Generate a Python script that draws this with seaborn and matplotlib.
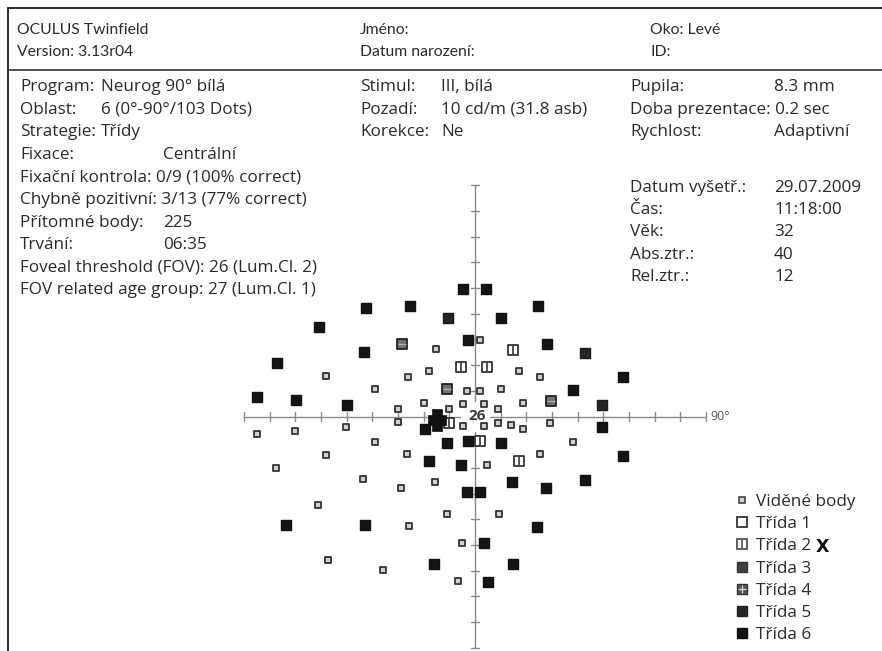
import numpy as np
import pandas as pd
import matplotlib.pyplot as plt
from matplotlib.lines import Line2D
from matplotlib.path import Path
from matplotlib.legend_handler import HandlerTuple
import seaborn as sns

sns.set_theme(style='white')
plt.rcParams['font.family'] = ['Open Sans', 'DejaVu Sans']

# --- test results, point positions in degrees (x: left/right, y: up/down) ---
seen_x = [-15.3, 1.9, -18.0, -26.2, -58.2, -39.0, -30.1, -19.9, -10.2, -85.0, -70.0, -50.1,
          -30.1, -39.0, 17.1, 25.3, -3.0, 1.9, 10.0, -4.8, 3.6, 9.1, 18.6, -4.8, 3.6,
          9.1, 13.9, 18.6, 29.2, 38.1, -58.2, -26.5, -77.5, -43.7, -28.8, -15.7,
          -61.0, -11.0, -25.6, -57.1, -35.7, -6.7, 25.3, 4.6, 9.5, -5.2]
seen_y = [26.2, 29.8, 17.8, 15.3, 15.8, 10.7, 2.9, 5.4, 2.9, -6.8, -5.6, -4.0,
          -2.3, -9.9, 17.8, 15.3, 9.8, 9.8, 10.8, 4.7, 4.7, 2.9, 5.4, -3.7, -3.7,
          -2.4, -3.5, -4.8, -2.4, -9.9, -15.0, -14.6, -20.2, -24.5, -27.7, -25.5,
          -34.5, -38.0, -42.8, -55.9, -59.9, -64.1, -14.6, -18.8, -38.0, -49.3]

cls2_x = [-5.6, 4.8, 14.7, -10.0, 1.9, 17.1]
cls2_y = [19.4, 19.4, 25.9, -2.4, -9.7, -17.5]

cls3_x = [-28.4, -10.8, 29.5]
cls3_y = [28.2, 10.8, 6.2]

cls5_x = [-10.6, 43.0, 49.5]
cls5_y = [38.5, 24.9, 4.4]

cls6_x = [-42.6, -25.2, -60.7, -43.4, -77.3, -84.8, -69.7, -50.0, -19.5, -11.0,
          -4.6, 4.2, 24.7, 10.0, -2.8, 27.9, 57.5, 38.3, 49.5, -2.8, 10.0,
          -18.0, -5.6, -73.7, -42.9, -16.1, 57.5, 14.4, 27.7, 42.7, -3.0, 1.9,
          24.3, 3.6, 14.7, 4.9]
cls6_y = [42.4, 43.2, 34.9, 25.0, 20.7, 7.6, 6.3, 4.6, -5.0, -10.4,
          49.6, 49.6, 43.0, 38.5, 29.8, 28.2, 15.5, 10.3, -4.2, -9.7, -10.4,
          -17.5, -19.0, -42.2, -42.2, -57.6, -15.4, -25.6, -28.0, -24.7, -29.5, -29.5,
          -43.2, -49.4, -57.6, -64.4]

blind_x = [-14.9]
blind_y = [-1.5]
fov_value = '26'

legend_labels = ['Viděné body', 'Třída 1', 'Třída 2', 'Třída 3', 'Třída 4', 'Třída 5', 'Třída 6']

header_left = ['OCULUS Twinfield', 'Version: 3.13r04']
header_mid = ['Jméno:', 'Datum narození:']
header_right = ['Oko: Levé', 'ID:']

info_a_labels = ['Program:', 'Oblast:', 'Strategie:']
info_a_values = ['Neurog 90° bílá', '6 (0°-90°/103 Dots)', 'Třídy']
info_b_labels = ['Fixace:', 'Fixační kontrola: 0/9 (100% correct)', 'Chybně pozitivní: 3/13 (77% correct)',
                 'Přítomné body:', 'Trvání:', 'Foveal threshold (FOV): 26 (Lum.Cl. 2)',
                 'FOV related age group: 27 (Lum.Cl. 1)']
info_b_values = ['Centrální', '', '', '225', '06:35', '', '']
stim_labels = ['Stimul:', 'Pozadí:', 'Korekce:']
stim_values = ['III, bílá', '10 cd/m (31.8 asb)', 'Ne']
right_labels = ['Pupila:', 'Doba prezentace: 0.2 sec', 'Rychlost:']
right_values = ['8.3 mm', '', 'Adaptivní']
exam_labels = ['Datum vyšetř.:', 'Čas:', 'Věk:', 'Abs.ztr.:', 'Rel.ztr.:']
exam_values = ['29.07.2009', '11:18:00', '32', '40', '12']

W, H = 882, 651
fig = plt.figure(figsize=(W / 100, H / 100), dpi=100)

# form layer in pixel units
form = fig.add_axes([0, 0, 1, 1])
form.set_xlim(0, W)
form.set_ylim(H, 0)
form.axis('off')

fs = 12.3
txt = dict(fontsize=fs, color='#2a2a2a', va='center')
head = dict(fontsize=11.3, color='#2a2a2a', va='center', family=['Lato', 'DejaVu Sans'])
form.plot([8, W], [8, 8], color='#333', lw=1.5)
form.plot([8, 8], [8, H], color='#333', lw=1.5)
form.plot([8, W], [70, 70], color='#333', lw=1.2)

for i, s in enumerate(header_left):
    form.text(17, 30 + 22 * i, s, **head)
for i, s in enumerate(header_mid):
    form.text(360, 30 + 22 * i, s, **head)
for i, s in enumerate(header_right):
    form.text(650, 30 + 22 * i, s, **head)

row = 22.6
for i, (l, v) in enumerate(zip(info_a_labels, info_a_values)):
    form.text(20, 87 + row * i, l, **txt)
    form.text(101, 87 + row * i, v, **txt)
for i, (l, v) in enumerate(zip(info_b_labels, info_b_values)):
    y = 87 + row * (i + 3)
    form.text(20, y, l, **txt)
    form.text(163, y, v, **txt)
for i, (l, v) in enumerate(zip(stim_labels, stim_values)):
    form.text(360, 87 + row * i, l, **txt)
    form.text(441, 87 + row * i, v, **txt)
for i, (l, v) in enumerate(zip(right_labels, right_values)):
    form.text(630, 87 + row * i, l, **txt)
    form.text(774, 87 + row * i, v, **txt)
for i, (l, v) in enumerate(zip(exam_labels, exam_values)):
    form.text(630, 187.5 + 22.4 * i, l, **txt)
    form.text(774, 187.5 + 22.4 * i, v, **txt)

# perimetry chart, degrees
S, CX, CY = 2.567, 475, 416.5
ax = fig.add_axes([0, 0, 1, 1])
ax.set_xlim(-CX / S, (W - CX) / S)
ax.set_ylim((CY - H) / S, CY / S)
ax.axis('off')
ax.patch.set_alpha(0)

axc = '#8a8a8a'
gap = 6
ax.plot([-90, -gap], [0, 0], color=axc, lw=1)
ax.plot([gap, 90], [0, 0], color=axc, lw=1)
ax.plot([0, 0], [gap, 90], color=axc, lw=1)
ax.plot([0, 0], [-90, -gap], color=axc, lw=1)
for t in range(-90, 91, 10):
    if t == 0:
        continue
    ax.plot([t, t], [-1.6, 1.6], color=axc, lw=1)
    ax.plot([-1.6, 1.6], [t, t], color=axc, lw=1)
ax.text(91.5, 0, '90°', fontsize=9, color='#555', va='center', ha='left')
ax.text(0.7, 0.2, fov_value, fontsize=11, fontweight='bold', color='#3a3a3a',
        va='center', ha='center')

df = pd.concat([
    pd.DataFrame({'x': seen_x, 'y': seen_y, 'cls': 'seen'}),
    pd.DataFrame({'x': cls2_x, 'y': cls2_y, 'cls': 'c2'}),
    pd.DataFrame({'x': cls3_x, 'y': cls3_y, 'cls': 'c3'}),
    pd.DataFrame({'x': cls5_x, 'y': cls5_y, 'cls': 'c5'}),
    pd.DataFrame({'x': cls6_x, 'y': cls6_y, 'cls': 'c6'}),
    pd.DataFrame({'x': blind_x, 'y': blind_y, 'cls': 'blind'}),
], ignore_index=True)

# chunky cross for the blind spot
a, ex, ey = 0.5, 0.85, 1.0
cross = Path([(-a, -ey), (a, -ey), (a, -a), (ex, -a), (ex, a), (a, a), (a, ey),
              (-a, ey), (-a, a), (-ex, a), (-ex, -a), (-a, -a), (-a, -ey)], closed=True)

styles = {
    'seen': dict(marker='s', s=16, color='#d0d0d0', edgecolor='#333', linewidth=1.3),
    'c2': dict(marker='s', s=44, color='white', edgecolor='#333', linewidth=1.3),
    'c3': dict(marker='s', s=46, color='#707070', edgecolor='#222', linewidth=1.3),
    'c5': dict(marker='s', s=52, color='#262626', edgecolor='#1a1a1a', linewidth=1),
    'c6': dict(marker='s', s=54, color='#151515', edgecolor='#111', linewidth=1),
    'blind': dict(marker=cross, s=230, color='#111', edgecolor='#111', linewidth=0.5),
}
for c, st in styles.items():
    sns.scatterplot(data=df[df['cls'] == c], x='x', y='y', ax=ax, legend=False, zorder=3, **st)

# inner details of the class symbols
sns.scatterplot(data=df[df['cls'] == 'c2'], x='x', y='y', ax=ax, legend=False, zorder=4,
                marker='|', s=36, color='#333', linewidth=1.2)
sns.scatterplot(data=df[df['cls'] == 'c3'], x='x', y='y', ax=ax, legend=False, zorder=4,
                marker='_', s=26, color='#b0b0b0', linewidth=1.0)

# legend
handles = [
    Line2D([], [], ls='', marker='s', ms=4, mfc='#d0d0d0', mec='#444', mew=1.2),
    Line2D([], [], ls='', marker='s', ms=6.5, mfc='white', mec='#333', mew=1.3),
    (Line2D([], [], ls='', marker='s', ms=6.5, mfc='white', mec='#444', mew=1.2),
     Line2D([], [], ls='', marker='|', ms=5.5, mec='#444', mew=1.1)),
    Line2D([], [], ls='', marker='s', ms=6.5, mfc='#404040', mec='#333', mew=1.0),
    (Line2D([], [], ls='', marker='s', ms=6.5, mfc='#555', mec='#333', mew=1.0),
     Line2D([], [], ls='', marker='+', ms=5.5, mec='#ddd', mew=0.9)),
    Line2D([], [], ls='', marker='s', ms=6.5, mfc='#262626', mec='#222', mew=1.0),
    Line2D([], [], ls='', marker='s', ms=6.5, mfc='#151515', mec='#111', mew=1.0),
]
leg = fig.legend(handles, legend_labels, loc='upper left',
                 bbox_to_anchor=(736 / W, 1 - 494 / H), frameon=False,
                 fontsize=fs, handlelength=0.75, handletextpad=0.4,
                 labelspacing=0.365, borderpad=0, borderaxespad=0,
                 handler_map={tuple: HandlerTuple(ndivide=1)})
for t in leg.get_texts():
    t.set_color('#2a2a2a')

fig.canvas.draw()
bb = leg.get_texts()[2].get_window_extent()
fig.text((bb.x1 + 5) / W, (bb.y0 + bb.y1) / 2 / H - 0.001, 'X', fontsize=12.5, fontweight='bold',
         color='#111', va='center', ha='left', family='DejaVu Sans')

fig.savefig('out.png', dpi=100)
